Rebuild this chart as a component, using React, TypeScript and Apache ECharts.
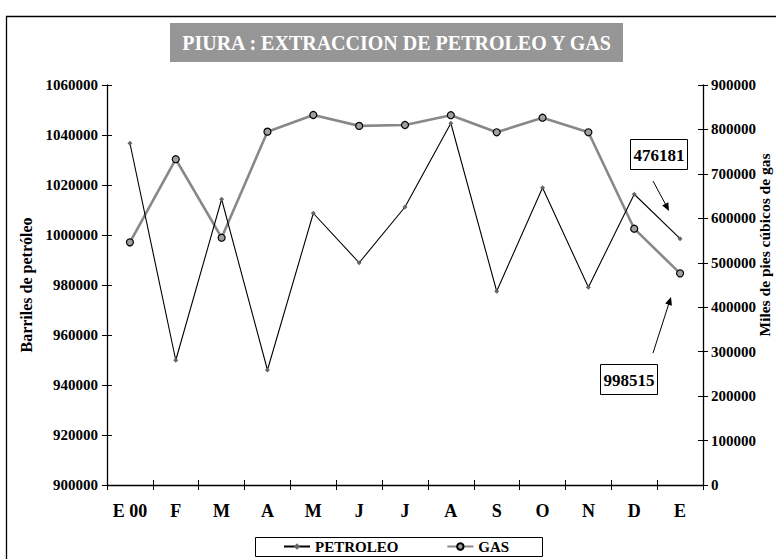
import React, { useEffect, useRef } from "react";
import * as echarts from "echarts";

const categories = ["E 00", "F", "M", "A", "M", "J", "J", "A", "S", "O", "N", "D", "E"];
const petroleo = [1036700, 949900, 1014300, 946000, 1008700, 988900, 1011200, 1044700, 977500, 1018900, 979100, 1016300, 998515];
const gas = [546000, 733000, 556400, 795000, 832500, 808000, 810000, 832000, 793600, 826400, 793600, 576700, 476181];
const leftTicks = { min: 900000, max: 1060000, interval: 20000 };
const rightTicks = { min: 0, max: 900000, interval: 100000 };
const titleText = "PIURA : EXTRACCION DE PETROLEO Y GAS";
const labelGas = "476181";
const labelPet = "998515";

const SERIF = "'Liberation Serif', 'Times New Roman', serif";

export default function App() {
  const ref = useRef<HTMLDivElement>(null);
  useEffect(() => {
    if (!ref.current) return;
    const chart = echarts.init(ref.current, null, { renderer: "svg" });
    const tickLabel = {
      fontFamily: SERIF,
      fontWeight: "bold",
      fontSize: 15,
      color: "#000",
      formatter: (v: number) => String(v),
    };
    const axisLine = { show: true, lineStyle: { color: "#000", width: 1.3 } };
    chart.setOption({
      animation: false,
      backgroundColor: "#fff",
      grid: { left: 107, right: 73, top: 85, bottom: 74 },
      xAxis: [
        {
          type: "category",
          data: categories,
          boundaryGap: true,
          axisLine,
          axisTick: { show: true, length: 5, lineStyle: { color: "#000" } },
          axisLabel: { fontFamily: SERIF, fontWeight: "bold", fontSize: 18, color: "#000", margin: 17 },
          splitLine: { show: false },
        },
        {
          type: "category",
          data: categories,
          position: "bottom",
          boundaryGap: true,
          axisLine: { show: false },
          axisTick: { show: true, inside: true, length: 5, lineStyle: { color: "#000" } },
          axisLabel: { show: false },
          splitLine: { show: false },
        },
      ],
      yAxis: [
        {
          type: "value",
          position: "left",
          ...leftTicks,
          name: "Barriles de petróleo",
          nameLocation: "middle",
          nameGap: 69,
          nameTextStyle: { fontFamily: SERIF, fontWeight: "bold", fontSize: 16, color: "#000" },
          axisLine,
          axisTick: { show: true, length: 5, lineStyle: { color: "#000" } },
          axisLabel: { ...tickLabel, margin: 9 },
          splitLine: { show: false },
        },
        {
          type: "value",
          position: "right",
          ...rightTicks,
          axisLine,
          axisTick: { show: true, length: 5, lineStyle: { color: "#000" } },
          axisLabel: { ...tickLabel, margin: 8 },
          splitLine: { show: false },
        },
        {
          type: "value",
          position: "left",
          ...leftTicks,
          axisLine: { show: false },
          axisTick: { show: true, inside: true, length: 5, lineStyle: { color: "#000" } },
          axisLabel: { show: false },
          splitLine: { show: false },
        },
        {
          type: "value",
          position: "right",
          ...rightTicks,
          axisLine: { show: false },
          axisTick: { show: true, inside: true, length: 5, lineStyle: { color: "#000" } },
          axisLabel: { show: false },
          splitLine: { show: false },
        },
      ],
      legend: {
        left: 283,
        top: 539,
        itemGap: 48,
        itemWidth: 26,
        itemHeight: 8,
        padding: 0,
        textStyle: { fontFamily: SERIF, fontWeight: "bold", fontSize: 15, color: "#000" },
        data: ["PETROLEO", "GAS"],
      },
      series: [
        {
          name: "PETROLEO",
          type: "line",
          yAxisIndex: 0,
          data: petroleo,
          symbol: "diamond",
          symbolSize: 5,
          itemStyle: { color: "#666" },
          lineStyle: { color: "#000", width: 1.1 },
          z: 3,
        },
        {
          name: "GAS",
          type: "line",
          yAxisIndex: 1,
          data: gas,
          symbol: "circle",
          symbolSize: 7,
          itemStyle: { color: "#a0a0a0", borderColor: "#000", borderWidth: 1.2 },
          lineStyle: { color: "#888", width: 2.6 },
          z: 2,
        },
      ],
      graphic: [
        { type: "rect", shape: { x: 6.5, y: 16.5, width: 780, height: 560 }, style: { fill: "none", stroke: "#000", lineWidth: 1.3 }, silent: true },
        { type: "rect", shape: { x: 170, y: 23, width: 453, height: 39 }, style: { fill: "#969696" } },
        { type: "text", x: 396.5, y: 42.5, style: { text: titleText, fill: "#fff", font: `bold 20px ${SERIF}`, align: "center", verticalAlign: "middle" } },
        {
          type: "text",
          x: 764,
          y: 245,
          rotation: Math.PI / 2,
          style: { text: "Miles de pies cúbicos de gas", fill: "#000", font: `bold 15.5px ${SERIF}`, align: "center", verticalAlign: "middle" },
        },
        { type: "rect", shape: { x: 630.5, y: 139.5, width: 57, height: 30 }, style: { fill: "#fff", stroke: "#000", lineWidth: 1 } },
        { type: "text", x: 659, y: 155, style: { text: labelGas, fill: "#000", font: `bold 17px ${SERIF}`, align: "center", verticalAlign: "middle" } },
        { type: "line", shape: { x1: 653, y1: 181, x2: 667, y2: 207 }, style: { stroke: "#000", lineWidth: 1 } },
        { type: "polygon", shape: { points: [[669, 211], [662.2, 205.6], [668.3, 202.3]] }, style: { fill: "#000" } },
        { type: "rect", shape: { x: 600.5, y: 364.5, width: 57, height: 30 }, style: { fill: "#fff", stroke: "#000", lineWidth: 1 } },
        { type: "text", x: 629, y: 380, style: { text: labelPet, fill: "#000", font: `bold 17px ${SERIF}`, align: "center", verticalAlign: "middle" } },
        { type: "line", shape: { x1: 653, y1: 353, x2: 670, y2: 300 }, style: { stroke: "#000", lineWidth: 1 } },
        { type: "polygon", shape: { points: [[671, 297], [671.9, 305.7], [665.2, 303.5]] }, style: { fill: "#000" } },
        { type: "rect", shape: { x: 255.5, y: 537.5, width: 287, height: 19 }, style: { fill: "none", stroke: "#000", lineWidth: 1 } },
      ],
    });
    return () => chart.dispose();
  }, []);
  return <div ref={ref} style={{ width: 776, height: 559, position: "absolute", left: 0, top: 0 }} />;
}
